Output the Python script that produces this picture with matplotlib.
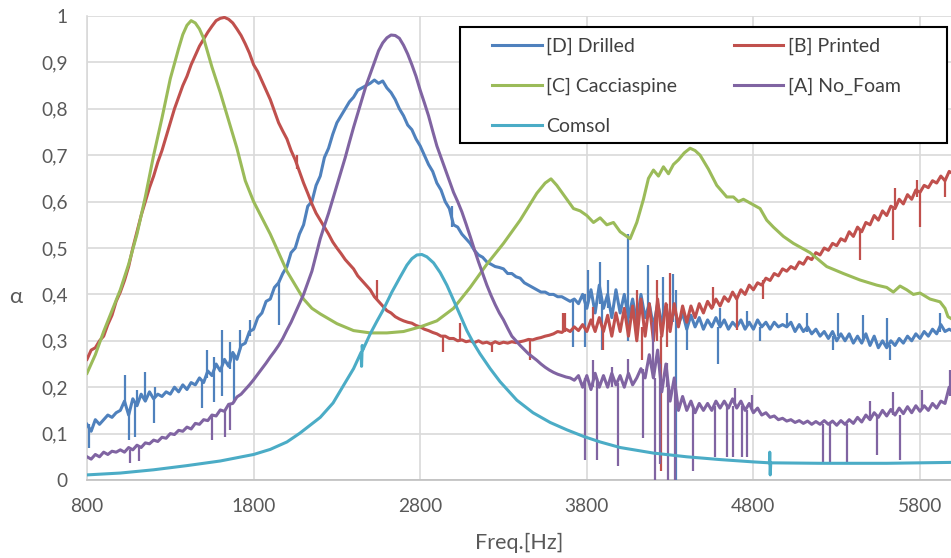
import numpy as np
import matplotlib
matplotlib.use("Agg")
import matplotlib.pyplot as plt
from matplotlib.lines import Line2D
from matplotlib.patches import Rectangle

# ---------------- data ----------------
freq_grid = np.arange(800, 6001, 25)

drilled = [
    0.12, 0.105, 0.13, 0.12, 0.13, 0.14, 0.135, 0.145,
    0.15, 0.17, 0.14, 0.175, 0.16, 0.185, 0.17, 0.19,
    0.175, 0.185, 0.18, 0.19, 0.185, 0.2, 0.19, 0.205,
    0.195, 0.21, 0.205, 0.22, 0.21, 0.235, 0.225, 0.25,
    0.235, 0.26, 0.245, 0.275, 0.26, 0.29, 0.295, 0.32,
    0.325, 0.35, 0.36, 0.385, 0.39, 0.415, 0.425, 0.445,
    0.46, 0.49, 0.5, 0.53, 0.55, 0.59, 0.6, 0.635,
    0.655, 0.695, 0.715, 0.745, 0.77, 0.785, 0.80, 0.815,
    0.825, 0.84, 0.845, 0.85, 0.855, 0.862, 0.855, 0.86,
    0.845, 0.835, 0.82, 0.80, 0.785, 0.765, 0.755, 0.735,
    0.72, 0.70, 0.68, 0.665, 0.64, 0.625, 0.60, 0.585,
    0.55, 0.545, 0.53, 0.52, 0.51, 0.495, 0.485, 0.48,
    0.47, 0.465, 0.46, 0.458, 0.455, 0.445, 0.445, 0.438,
    0.435, 0.425, 0.42, 0.415, 0.41, 0.405, 0.405, 0.40,
    0.40, 0.395, 0.395, 0.39, 0.385, 0.39, 0.38, 0.40,
    0.37, 0.41, 0.36, 0.42, 0.37, 0.40, 0.35, 0.41,
    0.36, 0.40, 0.35, 0.39, 0.34, 0.40, 0.35, 0.38,
    0.33, 0.38, 0.34, 0.37, 0.33, 0.37, 0.335, 0.36,
    0.325, 0.355, 0.33, 0.35, 0.325, 0.345, 0.33, 0.35,
    0.33, 0.345, 0.325, 0.34, 0.33, 0.345, 0.325, 0.34,
    0.325, 0.345, 0.33, 0.34, 0.325, 0.34, 0.33, 0.335,
    0.33, 0.34, 0.32, 0.335, 0.32, 0.33, 0.315, 0.325,
    0.31, 0.32, 0.305, 0.32, 0.30, 0.315, 0.30, 0.315,
    0.295, 0.31, 0.295, 0.315, 0.29, 0.31, 0.285, 0.30,
    0.285, 0.30, 0.29, 0.305, 0.295, 0.31, 0.30, 0.315,
    0.305, 0.32, 0.31, 0.325, 0.315, 0.335, 0.32, 0.325,
    0.32]

printed = [
    0.26, 0.28, 0.285, 0.30, 0.31, 0.335, 0.355, 0.385,
    0.405, 0.43, 0.46, 0.50, 0.535, 0.57, 0.60, 0.63,
    0.655, 0.685, 0.71, 0.74, 0.77, 0.80, 0.825, 0.85,
    0.87, 0.895, 0.915, 0.935, 0.95, 0.965, 0.978, 0.99,
    0.995, 0.997, 0.993, 0.985, 0.972, 0.958, 0.94, 0.92,
    0.895, 0.88, 0.86, 0.84, 0.82, 0.795, 0.77, 0.752,
    0.735, 0.71, 0.69, 0.665, 0.64, 0.618, 0.595, 0.575,
    0.56, 0.545, 0.53, 0.513, 0.50, 0.488, 0.475, 0.465,
    0.455, 0.44, 0.43, 0.42, 0.41, 0.395, 0.385, 0.375,
    0.365, 0.36, 0.352, 0.347, 0.343, 0.34, 0.338, 0.333,
    0.33, 0.325, 0.322, 0.318, 0.315, 0.31, 0.31, 0.305,
    0.305, 0.30, 0.302, 0.298, 0.30, 0.296, 0.30, 0.295,
    0.297, 0.293, 0.298, 0.294, 0.297, 0.295, 0.298, 0.296,
    0.298, 0.30, 0.303, 0.302, 0.305, 0.307, 0.31, 0.312,
    0.315, 0.32, 0.318, 0.325, 0.32, 0.33, 0.322, 0.335,
    0.32, 0.345, 0.32, 0.35, 0.32, 0.355, 0.31, 0.36,
    0.32, 0.37, 0.31, 0.375, 0.30, 0.39, 0.31, 0.38,
    0.30, 0.39, 0.31, 0.38, 0.32, 0.38, 0.33, 0.375,
    0.34, 0.375, 0.35, 0.38, 0.36, 0.385, 0.37, 0.39,
    0.375, 0.395, 0.385, 0.405, 0.39, 0.41, 0.40, 0.42,
    0.41, 0.425, 0.42, 0.435, 0.43, 0.445, 0.44, 0.455,
    0.45, 0.46, 0.455, 0.47, 0.465, 0.48, 0.475, 0.49,
    0.485, 0.50, 0.495, 0.51, 0.505, 0.52, 0.515, 0.535,
    0.525, 0.545, 0.535, 0.555, 0.55, 0.57, 0.56, 0.58,
    0.57, 0.59, 0.585, 0.605, 0.595, 0.615, 0.605, 0.625,
    0.62, 0.635, 0.63, 0.645, 0.64, 0.655, 0.645, 0.665,
    0.66]

no_foam = [
    0.05, 0.045, 0.055, 0.05, 0.06, 0.055, 0.062, 0.06,
    0.065, 0.06, 0.07, 0.065, 0.075, 0.07, 0.08, 0.078,
    0.086, 0.083, 0.092, 0.09, 0.10, 0.098, 0.107, 0.105,
    0.114, 0.11, 0.122, 0.12, 0.13, 0.128, 0.14, 0.138,
    0.151, 0.148, 0.163, 0.165, 0.179, 0.185, 0.195, 0.205,
    0.216, 0.228, 0.24, 0.252, 0.265, 0.277, 0.29, 0.305,
    0.323, 0.34, 0.36, 0.38, 0.40, 0.425, 0.45, 0.485,
    0.52, 0.548, 0.575, 0.605, 0.635, 0.665, 0.695, 0.728,
    0.76, 0.79, 0.82, 0.85, 0.875, 0.90, 0.925, 0.942,
    0.953, 0.959, 0.958, 0.952, 0.937, 0.918, 0.895, 0.87,
    0.84, 0.813, 0.785, 0.752, 0.72, 0.695, 0.67, 0.645,
    0.62, 0.60, 0.578, 0.552, 0.525, 0.497, 0.47, 0.445,
    0.42, 0.398, 0.378, 0.36, 0.345, 0.327, 0.31, 0.30,
    0.29, 0.281, 0.272, 0.265, 0.258, 0.25, 0.243, 0.237,
    0.232, 0.228, 0.225, 0.222, 0.22, 0.215, 0.225, 0.20,
    0.225, 0.195, 0.23, 0.20, 0.225, 0.20, 0.23, 0.205,
    0.225, 0.20, 0.23, 0.205, 0.22, 0.24, 0.22, 0.27,
    0.22, 0.28, 0.19, 0.25, 0.17, 0.22, 0.15, 0.18,
    0.15, 0.17, 0.145, 0.165, 0.15, 0.165, 0.15, 0.17,
    0.155, 0.17, 0.155, 0.175, 0.155, 0.17, 0.15, 0.165,
    0.145, 0.155, 0.14, 0.145, 0.135, 0.138, 0.13, 0.133,
    0.127, 0.13, 0.124, 0.128, 0.122, 0.127, 0.12, 0.126,
    0.12, 0.128, 0.12, 0.127, 0.118, 0.128, 0.12, 0.13,
    0.122, 0.135, 0.125, 0.14, 0.13, 0.145, 0.135, 0.15,
    0.138, 0.152, 0.14, 0.155, 0.143, 0.158, 0.145, 0.16,
    0.148, 0.16, 0.15, 0.165, 0.155, 0.17, 0.165, 0.2,
    0.19]

caccia_freq = [800, 850, 900, 950, 1000, 1050, 1100, 1150, 1200, 1250, 1300, 1350,
               1375, 1400, 1425, 1450, 1475, 1500, 1550, 1600, 1650, 1700, 1750, 1800, 1850,
               1900, 1950, 2000, 2050, 2100, 2150, 2200, 2300, 2400, 2500, 2600,
               2700, 2800, 2900, 3000, 3100, 3200, 3300, 3400, 3500, 3550, 3585,
               3620, 3660, 3720, 3760, 3800, 3840, 3880, 3920, 3960, 4000, 4060,
               4100, 4140, 4170, 4200, 4230, 4260, 4290, 4320, 4350, 4385, 4420,
               4450, 4480, 4530, 4580, 4640, 4680, 4710, 4740, 4780, 4840, 4880,
               4920, 4980, 5040, 5140, 5240, 5340, 5440, 5540, 5600, 5640, 5680,
               5720, 5760, 5800, 5860, 5920, 5950, 5968, 6000]
cacciaspine = [0.23, 0.27, 0.32, 0.365, 0.41, 0.465, 0.53, 0.61, 0.70, 0.78, 0.865, 0.93,
               0.96, 0.98, 0.99, 0.985, 0.972, 0.952, 0.89, 0.835, 0.775, 0.715, 0.645, 0.60, 0.565,
               0.53, 0.49, 0.45, 0.42, 0.39, 0.37, 0.358, 0.337, 0.322, 0.317, 0.317,
               0.32, 0.33, 0.343, 0.37, 0.415, 0.465, 0.51, 0.56, 0.618, 0.64, 0.649,
               0.635, 0.615, 0.585, 0.58, 0.57, 0.555, 0.565, 0.55, 0.555, 0.535, 0.52,
               0.555, 0.605, 0.65, 0.668, 0.655, 0.675, 0.66, 0.68, 0.69, 0.705, 0.715,
               0.71, 0.70, 0.67, 0.635, 0.61, 0.61, 0.60, 0.605, 0.597, 0.585, 0.56,
               0.545, 0.525, 0.51, 0.49, 0.46, 0.445, 0.431, 0.42, 0.415, 0.405, 0.418,
               0.41, 0.40, 0.403, 0.39, 0.384, 0.37, 0.352, 0.345]

comsol_freq = [800, 1000, 1200, 1400, 1600, 1800, 1900, 2000, 2078, 2200, 2277, 2350,
               2400, 2445, 2448, 2452, 2455, 2500, 2540, 2577, 2630, 2679, 2720, 2750,
               2780, 2810, 2840, 2880, 2920, 2960, 2991, 3040, 3080, 3120, 3159, 3220,
               3279, 3380, 3477, 3580, 3681, 3780, 3880, 4000, 4200, 4400, 4600, 4800,
               4896, 4898, 4901, 4904, 5200, 5600, 6000]
comsol = [0.011, 0.015, 0.022, 0.031, 0.041, 0.055, 0.066, 0.082, 0.101, 0.135, 0.166, 0.21,
          0.24, 0.275, 0.245, 0.29, 0.28, 0.315, 0.342, 0.366, 0.405, 0.437, 0.463, 0.477,
          0.485, 0.486, 0.481, 0.468, 0.447, 0.42, 0.395, 0.355, 0.322, 0.295, 0.272, 0.24,
          0.212, 0.172, 0.145, 0.124, 0.108, 0.094, 0.082, 0.07, 0.058, 0.05, 0.044, 0.039,
          0.037, 0.06, 0.011, 0.037, 0.036, 0.036, 0.038]

# spikes: (frequency, low, high)
drilled_spike_f = [810, 1030, 1050, 1090, 1100, 1150, 1200, 1210, 1490, 1520, 1560, 1610,
                   1660, 1680, 1720, 1780, 1950, 2990, 3719, 3789, 3809, 3879, 3889, 3929,
                   4046, 4169, 4259, 4319, 4335, 4399, 4589, 4600, 4760, 4840, 5000, 5120,
                   5276, 5306, 5460, 5600, 5618, 5920]
drilled_spike_lo = [0.07, 0.16, 0.086, 0.093, 0.16, 0.17, 0.122, 0.18, 0.155, 0.22, 0.168, 0.18,
                    0.24, 0.165, 0.28, 0.31, 0.334, 0.545, 0.287, 0.287, 0.38, 0.38, 0.28, 0.37,
                    0.30, 0.35, 0.34, 0.34, 0.0, 0.28, 0.25, 0.33, 0.33, 0.30, 0.33, 0.32,
                    0.28, 0.31, 0.30, 0.29, 0.258, 0.32]
drilled_spike_hi = [0.12, 0.226, 0.15, 0.17, 0.194, 0.233, 0.18, 0.20, 0.215, 0.28, 0.266, 0.323,
                    0.298, 0.27, 0.323, 0.345, 0.43, 0.59, 0.39, 0.40, 0.453, 0.47, 0.38, 0.43,
                    0.53, 0.463, 0.438, 0.445, 0.41, 0.34, 0.33, 0.37, 0.365, 0.33, 0.36, 0.36,
                    0.31, 0.36, 0.355, 0.35, 0.29, 0.36]

printed_spike_f = [2060, 2540, 2936, 3038, 3230, 3458, 3656, 3669, 3839, 3899, 4099, 4129,
                   4219, 4245, 4279, 4299, 4559, 4699, 4857, 5439, 5637, 5649, 5780, 5799, 5949]
printed_spike_lo = [0.67, 0.39, 0.276, 0.30, 0.276, 0.258, 0.318, 0.32, 0.33, 0.28, 0.31, 0.259,
                    0.30, 0.02, 0.287, 0.33, 0.37, 0.323, 0.39, 0.474, 0.517, 0.59, 0.61, 0.545, 0.61]
printed_spike_hi = [0.70, 0.43, 0.31, 0.338, 0.297, 0.303, 0.36, 0.359, 0.373, 0.33, 0.41, 0.33,
                    0.431, 0.31, 0.38, 0.446, 0.416, 0.39, 0.43, 0.54, 0.585, 0.63, 0.646, 0.62, 0.65]

no_foam_spike_f = [1060, 1110, 1550, 1630, 1660, 3790, 3839, 3860, 3950, 3985, 4050, 4140,
                   4199, 4210, 4240, 4281, 4290, 4330, 4435, 4570, 4640, 4680, 4689, 4730,
                   4760, 4791, 5217, 5259, 5361, 5500, 5541, 5640, 5679, 5811, 5979]
no_foam_spike_lo = [0.036, 0.04, 0.086, 0.093, 0.108, 0.043, 0.20, 0.043, 0.20, 0.03, 0.22, 0.09,
                    0.22, 0.0, 0.035, 0.20, 0.0, 0.0, 0.02, 0.05, 0.05, 0.05, 0.16, 0.05,
                    0.05, 0.15, 0.037, 0.037, 0.037, 0.13, 0.054, 0.14, 0.043, 0.15, 0.18]
no_foam_spike_hi = [0.065, 0.075, 0.14, 0.15, 0.163, 0.22, 0.259, 0.22, 0.244, 0.21, 0.26, 0.24,
                    0.34, 0.22, 0.25, 0.252, 0.2, 0.2, 0.16, 0.16, 0.16, 0.16, 0.198, 0.16,
                    0.15, 0.183, 0.12, 0.12, 0.12, 0.17, 0.135, 0.19, 0.14, 0.194, 0.237]

x_ticks = [800, 1800, 2800, 3800, 4800, 5800]
y_ticks = [0, 0.1, 0.2, 0.3, 0.4, 0.5, 0.6, 0.7, 0.8, 0.9, 1.0]
y_ticklabels = ["0", "0,1", "0,2", "0,3", "0,4", "0,5", "0,6", "0,7", "0,8", "0,9", "1"]

# ---------------- style ----------------
C_D = "#4F81BD"
C_B = "#C0504D"
C_C = "#9BBB59"
C_A = "#8064A2"
C_S = "#4BACC6"
TXT = "#595959"
LEGTXT = "#404040"
GRID = "#D9D9D9"

plt.rcParams["font.family"] = ["Lato", "DejaVu Sans"]

W, H = 951, 558
fig = plt.figure(figsize=(W / 100, H / 100), dpi=100)
ax = fig.add_axes([87 / W, 1 - 480 / H, (W - 87) / W, (480 - 16) / H])

lw = 2.2
slw = 1.6
ax.plot(freq_grid, drilled, color=C_D, lw=lw, zorder=3)
ax.vlines(drilled_spike_f, drilled_spike_lo, drilled_spike_hi, color=C_D, lw=slw, zorder=3)
ax.plot(freq_grid, printed, color=C_B, lw=lw, zorder=4)
ax.vlines(printed_spike_f, printed_spike_lo, printed_spike_hi, color=C_B, lw=slw, zorder=4)
ax.plot(caccia_freq, cacciaspine, color=C_C, lw=lw, zorder=5)
ax.plot(freq_grid, no_foam, color=C_A, lw=lw, zorder=6)
ax.vlines(no_foam_spike_f, no_foam_spike_lo, no_foam_spike_hi, color=C_A, lw=slw, zorder=6)
ax.plot(comsol_freq, comsol, color=C_S, lw=lw, zorder=7)

ax.set_xlim(800, 5986)
ax.set_ylim(0, 1)
ax.set_xticks(x_ticks)
ax.set_yticks(y_ticks)
ax.set_yticklabels(y_ticklabels)
ax.tick_params(axis="both", length=0, labelsize=13.8, labelcolor=TXT)
ax.tick_params(axis="y", pad=14)
ax.tick_params(axis="x", pad=13)
ax.grid(True, color=GRID, lw=1.2, zorder=0)
ax.set_axisbelow(True)
for s in ["top", "right"]:
    ax.spines[s].set_visible(False)
ax.spines["left"].set_color(GRID)
ax.spines["left"].set_linewidth(1.2)
ax.spines["bottom"].set_color("#BFBFBF")
ax.spines["bottom"].set_linewidth(1.2)

fig.text(16 / W, 1 - 297 / H, "α", fontsize=16, color=TXT, ha="center", va="center")
fig.text(519 / W, 1 - 543 / H, "Freq.[Hz]", fontsize=15.5, color=TXT, ha="center", va="center")

# legend frame (fixed box as in the reference)
frame = Rectangle((460 / W, 1 - 143 / H), (947 - 460) / W, (143 - 27) / H,
                  transform=fig.transFigure, facecolor="white", edgecolor="black",
                  lw=1.5, zorder=9, clip_on=False)
ax.add_patch(frame)

handles = [Line2D([], [], color=c, lw=lw) for c in [C_D, C_C, C_S, C_B, C_A]]
labels = ["[D] Drilled", "[C] Cacciaspine", "Comsol", "[B] Printed", "[A] No_Foam"]
leg = ax.legend(handles, labels, ncol=2, loc="upper left",
                bbox_to_anchor=(492 / W, 1 - 38 / H), bbox_transform=fig.transFigure,
                fontsize=14, frameon=False,
                handlelength=2.55, handletextpad=0.25, columnspacing=2.9,
                labelspacing=1.17, borderpad=0, borderaxespad=0)
leg.set_zorder(10)
for t in leg.get_texts():
    t.set_color(LEGTXT)

fig.savefig("out.png", dpi=100)
